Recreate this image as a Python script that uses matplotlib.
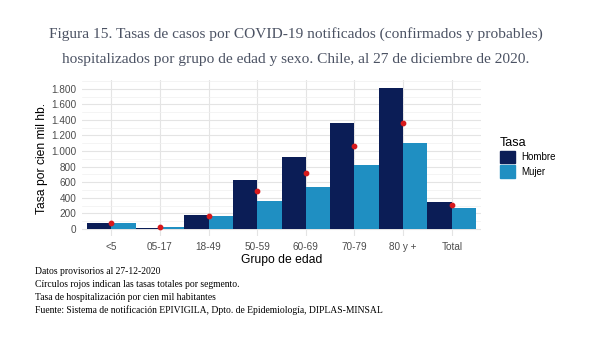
import matplotlib.pyplot as plt
from matplotlib.patches import Patch
from matplotlib.ticker import FuncFormatter, MultipleLocator
import numpy as np

grupos = ["<5", "05-17", "18-49", "50-59", "60-69", "70-79", "80 y +", "Total"]
hombre = [73, 17, 179, 623, 921, 1365, 1810, 350]
mujer = [72, 30, 162, 354, 541, 819, 1101, 265]
total = [75, 25, 170, 486, 721, 1062, 1365, 311]

c_hombre = "#0b1d56"
c_mujer = "#1f8fc2"

plt.rcParams['font.family'] = ['Liberation Sans', 'DejaVu Sans']

fig = plt.figure(figsize=(5.91, 3.39), dpi=100)
ax = fig.add_axes([82/591, 1 - 236/339, (481 - 82)/591, (236 - 80)/339])

x = np.arange(1, len(grupos) + 1)
ax.bar(x - 0.25, hombre, width=0.5, color=c_hombre, zorder=2)
ax.bar(x + 0.25, mujer, width=0.5, color=c_mujer, zorder=2)
ax.scatter(x, total, s=10, color="#d7191c", zorder=3)

ax.set_xlim(0.4, 8.6)
ax.set_ylim(-91, 1912)
ax.set_xticks(x)
ax.set_xticklabels(grupos)
ax.yaxis.set_major_locator(MultipleLocator(200))
ax.yaxis.set_minor_locator(MultipleLocator(100))
ax.yaxis.set_major_formatter(FuncFormatter(lambda v, p: f"{int(v):,}".replace(",", ".")))
ax.grid(True, which="major", color="#e4e4e4", lw=0.8, zorder=0)
ax.grid(True, which="minor", axis="y", color="#f0f0f0", lw=0.5, zorder=0)
ax.tick_params(which="both", length=0, labelsize=7.2, labelcolor="#4d4d4d", pad=4)
for s in ax.spines.values():
    s.set_visible(False)
ax.set_xlabel("Grupo de edad", fontsize=8.7, labelpad=2)
ax.set_ylabel("Tasa por cien mil hb.", fontsize=8.7, labelpad=2.5)

handles = [Patch(color=c_hombre, label="Hombre"), Patch(color=c_mujer, label="Mujer")]
leg = fig.legend(handles=handles, title="Tasa", loc="upper left",
                 bbox_to_anchor=(491/591, 1 - 128/339), frameon=False,
                 fontsize=7, title_fontsize=9, handlelength=1.6, handleheight=1.6,
                 handletextpad=0.6, labelspacing=0.2)
leg._legend_box.align = "left"

fig.text(0.5, 1 - 34/339, "Figura 15. Tasas de casos por COVID-19 notificados (confirmados y probables)",
         ha="center", va="center", fontsize=11.1, color="#4b5263", family="Liberation Serif")
fig.text(0.5, 1 - 60/339, "hospitalizados por grupo de edad y sexo. Chile, al 27 de diciembre de 2020.",
         ha="center", va="center", fontsize=11.1, color="#4b5263", family="Liberation Serif")

notas = ["Datos provisorios al 27-12-2020",
         "Círculos rojos indican las tasas totales por segmento.",
         "Tasa de hospitalización por cien mil habitantes",
         "Fuente: Sistema de notificación EPIVIGILA, Dpto. de Epidemiología, DIPLAS-MINSAL"]
for i, n in enumerate(notas):
    fig.text(35/591, 1 - (272 + 12.7*i)/339, n, ha="left", va="center", fontsize=6.9,
             family="Liberation Serif", color="black")

fig.savefig("out.png", dpi=100)
